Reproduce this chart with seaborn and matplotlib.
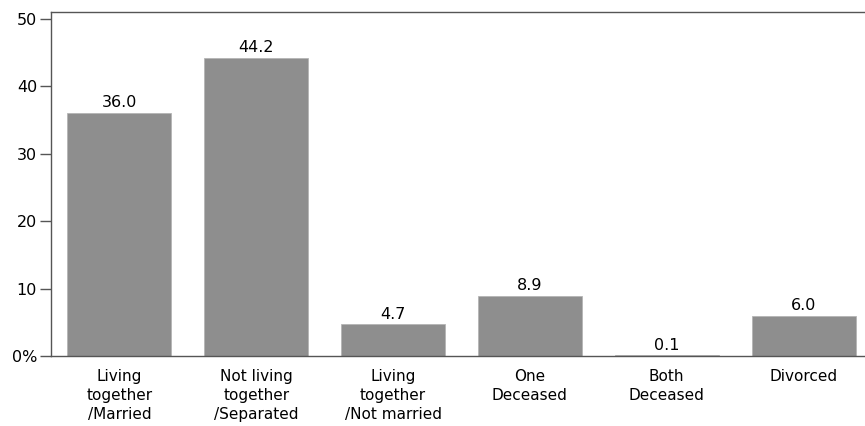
import matplotlib
matplotlib.use("Agg")
import matplotlib.pyplot as plt
import seaborn as sns
import pandas as pd

# Parents' marital status, percent
categories = ["Living\ntogether\n/Married", "Not living\ntogether\n/Separated",
              "Living\ntogether\n/Not married", "One\nDeceased",
              "Both\nDeceased", "Divorced"]
percent = [36.0, 44.2, 4.7, 8.9, 0.1, 6.0]
ytick_values = [0, 10, 20, 30, 40, 50]
ytick_labels = ["0%", "10", "20", "30", "40", "50"]

df = pd.DataFrame({"status": categories, "pct": percent})

sns.set_style("white")
plt.rcParams["font.family"] = ["DejaVu Sans"]
plt.rcParams["text.color"] = "black"
plt.rcParams["xtick.color"] = "black"
plt.rcParams["ytick.color"] = "black"

fig = plt.figure(figsize=(8.65, 4.26), dpi=100)
W, H = 865, 426
ax = fig.add_axes([51 / W, (H - 356) / H, (872 - 51) / W, (356 - 12) / H])

sns.barplot(data=df, x="status", y="pct", color="#8e8e8e", saturation=1,
            width=0.76, edgecolor="#b5b5b5", linewidth=0.6, ax=ax)

ax.bar_label(ax.containers[0], fmt="%.1f", padding=2, fontsize=11.5)

ax.set_xlim(-0.5, 5.5)
ax.set_ylim(0, 51)
ax.set_yticks(ytick_values)
ax.set_yticklabels(ytick_labels, fontsize=11.5)
ax.set_xlabel("")
ax.set_ylabel("")

ax.tick_params(axis="y", left=True, length=8, width=1, color="#555555", pad=2)
ax.tick_params(axis="x", bottom=False, pad=6)
for lbl in ax.get_xticklabels():
    lbl.set_fontsize(11)
    lbl.set_linespacing(1.32)
    lbl.set_verticalalignment("top")

for side in ["left", "bottom", "top", "right"]:
    ax.spines[side].set_visible(True)
    ax.spines[side].set_color("#555555")
    ax.spines[side].set_linewidth(1)

fig.savefig("out.png", dpi=100)
